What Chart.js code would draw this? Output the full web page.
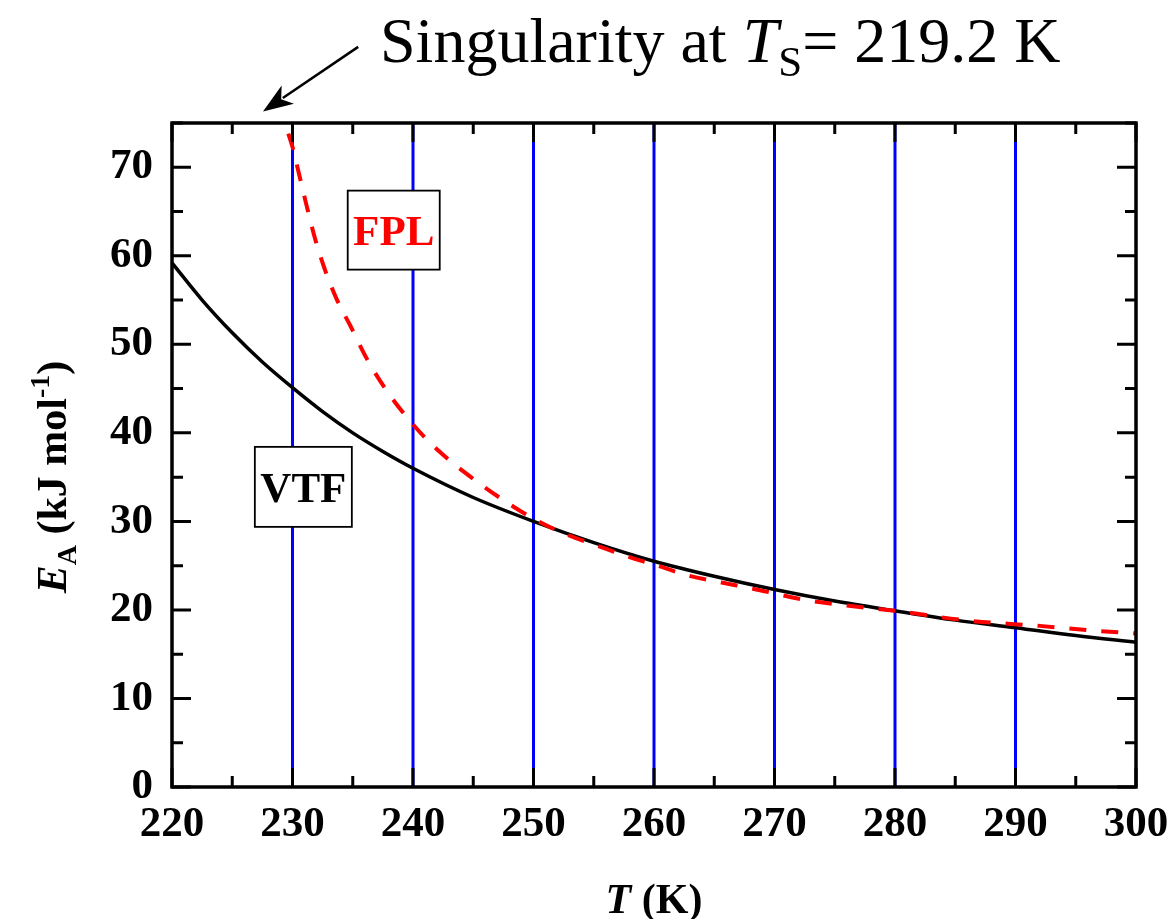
<!DOCTYPE html>
<html>
<head>
<meta charset="utf-8">
<script src="https://cdn.jsdelivr.net/npm/chart.js@4/dist/chart.umd.min.js"></script>
<style>
  html, body { margin: 0; padding: 0; background: #fff; }
  #wrap { width: 1172px; height: 919px; }
</style>
</head>
<body>
<div id="wrap"><canvas id="c" width="1172" height="919"></canvas></div>
<script>
// ---- data ----
const vtfT = [220, 222.5, 225, 227.5, 230, 232.5, 235, 237.5, 240, 245, 250, 255, 260, 265, 270, 275, 280, 285, 290, 295, 300];
const vtfE = [59.2, 55.0, 51.3, 48.0, 45.1, 42.4, 40.0, 37.9, 36.0, 32.7, 30.0, 27.6, 25.5, 23.8, 22.3, 21.0, 19.9, 18.85, 18.0, 17.1, 16.35];

const fplT = [229.65, 230, 230.6, 231.2, 231.9, 232.7, 233.7, 234.8, 236.2, 237.8, 239.9, 242.1, 244.9, 247.5, 250, 252.6, 255.2, 257.9, 260.3, 262.8, 265.6, 268.2, 272.7, 276, 280, 286, 292, 297, 300];
const fplE = [73.8, 72.3, 68.9, 65.5, 61.8, 58.4, 55.0, 52.1, 48.3, 44.8, 41.1, 38.0, 34.9, 32.4, 30.3, 28.6, 27.3, 26.0, 25.0, 23.9, 23.1, 22.4, 21.1, 20.5, 19.9, 18.8, 18.2, 17.6, 17.35];

const markerT = [230, 240, 250, 260, 270, 280, 290];
const markerRange = [0, 75];

const xTicks = [220, 230, 240, 250, 260, 270, 280, 290, 300];
const yTicks = [0, 10, 20, 30, 40, 50, 60, 70];

// ---- build datasets ----
const toPts = (xs, ys) => xs.map((x, i) => ({ x: x, y: ys[i] }));
const SERIF = '"Liberation Serif", "Times New Roman", Times, serif';

const datasets = [
  { label: 'FPL', data: toPts(fplT, fplE), borderColor: '#ff0000', borderWidth: 4,
    borderDash: [17, 15], showLine: true, pointRadius: 0, cubicInterpolationMode: 'monotone', fill: false },
  { label: 'VTF', data: toPts(vtfT, vtfE), borderColor: '#000000', borderWidth: 3.5,
    showLine: true, pointRadius: 0, cubicInterpolationMode: 'monotone', fill: false }
];
markerT.forEach(t => datasets.push({
  label: 'm' + t, data: [{ x: t, y: markerRange[0] }, { x: t, y: markerRange[1] }],
  borderColor: '#0000ff', borderWidth: 3, showLine: true, pointRadius: 0, tension: 0, fill: false
}));

function runs(ctx, x, y, parts) {
  parts.forEach(p => {
    ctx.font = p.font;
    ctx.fillText(p.text, x, y + (p.dy || 0));
    x += ctx.measureText(p.text).width;
  });
  return x;
}
function runsWidth(ctx, parts) {
  let w = 0;
  parts.forEach(p => { ctx.font = p.font; w += ctx.measureText(p.text).width; });
  return w;
}

const decor = {
  id: 'decor',
  afterDatasetsDraw(chart) {
    const ctx = chart.ctx;
    const xs = chart.scales.x, ys = chart.scales.y;
    const L = chart.chartArea.left, R = chart.chartArea.right, T = chart.chartArea.top, B = chart.chartArea.bottom;
    ctx.save();
    ctx.strokeStyle = '#000';
    ctx.lineCap = 'butt';
    // inward ticks on all four sides
    const major = 19, minor = 11;
    ctx.lineWidth = 3;
    for (let v = 220; v <= 300; v += 5) {
      const p = xs.getPixelForValue(v);
      const len = (v % 10 === 0) ? major : minor;
      ctx.beginPath();
      ctx.moveTo(p, B); ctx.lineTo(p, B - len);
      ctx.moveTo(p, T); ctx.lineTo(p, T + len);
      ctx.stroke();
    }
    for (let v = 0; v <= 75; v += 5) {
      const p = ys.getPixelForValue(v);
      const len = (v % 10 === 0) ? major : minor;
      ctx.beginPath();
      ctx.moveTo(L, p); ctx.lineTo(L + len, p);
      ctx.moveTo(R, p); ctx.lineTo(R - len, p);
      ctx.stroke();
    }
    // frame
    ctx.lineWidth = 3.5;
    ctx.strokeRect(L, T, R - L, B - T);

    // label boxes
    const boxes = [
      { text: 'FPL', color: '#ff0000', cx: 238.4, cy: 62.9, w: 92, h: 79 },
      { text: 'VTF', color: '#000000', cx: 230.9, cy: 33.9, w: 97, h: 80 }
    ];
    boxes.forEach(b => {
      const px = xs.getPixelForValue(b.cx), py = ys.getPixelForValue(b.cy);
      ctx.fillStyle = '#fff';
      ctx.fillRect(px - b.w / 2, py - b.h / 2, b.w, b.h);
      ctx.lineWidth = 1.8;
      ctx.strokeStyle = '#000';
      ctx.strokeRect(px - b.w / 2, py - b.h / 2, b.w, b.h);
      ctx.fillStyle = b.color;
      ctx.font = 'bold 43px ' + SERIF;
      ctx.textAlign = 'center';
      ctx.textBaseline = 'alphabetic';
      ctx.fillText(b.text, px, py + 15);
    });

    // top annotation text
    ctx.fillStyle = '#000';
    ctx.textAlign = 'left';
    ctx.textBaseline = 'alphabetic';
    runs(ctx, 380, 62, [
      { text: 'Singularity at ', font: '64px ' + SERIF },
      { text: 'T', font: 'italic 64px ' + SERIF },
      { text: 'S', font: '43px ' + SERIF, dy: 14 },
      { text: '= 219.2 K', font: '64px ' + SERIF }
    ]);

    // arrow
    const tx = xs.getPixelForValue(227.55), ty = ys.getPixelForValue(76.3);
    const sx = xs.getPixelForValue(235.45), sy = ys.getPixelForValue(83.6);
    const ang = Math.atan2(ty - sy, tx - sx);
    const hl = 30, hw = 11;
    ctx.strokeStyle = '#000';
    ctx.lineWidth = 2.5;
    ctx.beginPath();
    ctx.moveTo(sx, sy);
    ctx.lineTo(tx - Math.cos(ang) * (hl - 6), ty - Math.sin(ang) * (hl - 6));
    ctx.stroke();
    ctx.save();
    ctx.translate(tx, ty);
    ctx.rotate(ang);
    ctx.beginPath();
    ctx.moveTo(0, 0);
    ctx.lineTo(-hl, -hw);
    ctx.lineTo(-hl + 8, 0);
    ctx.lineTo(-hl, hw);
    ctx.closePath();
    ctx.fillStyle = '#000';
    ctx.fill();
    ctx.restore();

    // x axis title
    const xt = [
      { text: 'T', font: 'italic bold 42px ' + SERIF },
      { text: ' (K)', font: 'bold 42px ' + SERIF }
    ];
    const xw = runsWidth(ctx, xt);
    runs(ctx, 654 - xw / 2, 913, xt);

    // y axis title
    const yt = [
      { text: 'E', font: 'italic bold 42px ' + SERIF },
      { text: 'A', font: 'bold 28px ' + SERIF, dy: 10 },
      { text: ' (kJ mol', font: 'bold 42px ' + SERIF },
      { text: '-1', font: 'bold 28px ' + SERIF, dy: -17 },
      { text: ')', font: 'bold 42px ' + SERIF }
    ];
    const yw = runsWidth(ctx, yt);
    ctx.save();
    ctx.translate(66, 477);
    ctx.rotate(-Math.PI / 2);
    runs(ctx, -yw / 2, 0, yt);
    ctx.restore();

    ctx.restore();
  }
};

function build() {
  new Chart(document.getElementById('c'), {
    type: 'scatter',
    data: { datasets: datasets },
    options: {
      responsive: false,
      animation: false,
      devicePixelRatio: 1,
      layout: { padding: { left: 0, top: 123, right: 36, bottom: 0 } },
      plugins: { legend: { display: false }, tooltip: { enabled: false }, title: { display: false } },
      scales: {
        x: {
          type: 'linear', min: 220, max: 300,
          afterFit: s => { s.height = 132; s.paddingLeft = 0; s.paddingRight = 0; },
          afterBuildTicks: s => { s.ticks = xTicks.map(v => ({ value: v })); },
          grid: { display: false, drawTicks: false },
          border: { display: false },
          ticks: { color: '#000', padding: 12, maxRotation: 0, autoSkip: false,
                   font: { family: SERIF, size: 43, weight: 'bold' } }
        },
        y: {
          type: 'linear', min: 0, max: 75,
          afterFit: s => { s.width = 172; s.paddingTop = 0; s.paddingBottom = 0; },
          afterBuildTicks: s => { s.ticks = yTicks.map(v => ({ value: v })); },
          grid: { display: false, drawTicks: false },
          border: { display: false },
          ticks: { color: '#000', padding: 19, autoSkip: false,
                   font: { family: SERIF, size: 43, weight: 'bold' } }
        }
      }
    },
    plugins: [decor]
  });
}

const fontLoads = [
  'bold 42px "Liberation Serif"', 'italic bold 42px "Liberation Serif"',
  '64px "Liberation Serif"', 'italic 64px "Liberation Serif"'
].map(f => document.fonts.load(f).catch(() => null));
Promise.all(fontLoads).then(build, build);
</script>
</body>
</html>
